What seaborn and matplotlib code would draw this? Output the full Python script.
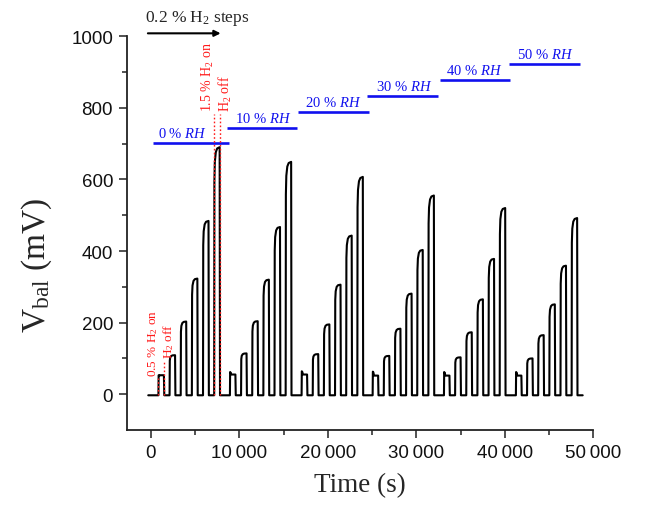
import numpy as np
import pandas as pd
import matplotlib
matplotlib.use("Agg")
import matplotlib.pyplot as plt
from matplotlib.ticker import FixedLocator, FuncFormatter
import seaborn as sns

# ---- measured values -------------------------------------------------------
# start of each humidity cycle (s) and H2 step onsets within a cycle (s)
cycle_start = [850, 8930, 17030, 25060, 33120, 41250]
step_offset = [0, 1260, 2520, 3780, 5040, 6300]
h2_on_time = 620          # length of one H2 exposure (s)
baseline = -3             # balance voltage with H2 off (mV)

# final response (mV) to 0.5, 0.7, 0.9, 1.1, 1.3, 1.5 % H2 for each RH level
peak_0rh = [53, 109, 203, 323, 484, 690]
peak_10rh = [55, 114, 204, 320, 467, 649]
peak_20rh = [55, 112, 195, 306, 443, 607]
peak_30rh = [52, 107, 183, 281, 403, 555]
peak_40rh = [52, 103, 173, 265, 378, 520]
peak_50rh = [52, 100, 165, 251, 359, 492]
peaks = [peak_0rh, peak_10rh, peak_20rh, peak_30rh, peak_40rh, peak_50rh]

# initial overshoot of the 0.5 % H2 step (mV)
first_spike = [53, 62, 64, 63, 62, 62]

# response profile during one exposure: time fraction -> fraction of final value
profile_t = [0.04, 0.12, 0.30, 0.55, 1.0]
profile_v = [0.86, 0.94, 0.98, 0.995, 1.0]

trace_start, trace_end = -300, 48800

# humidity annotation bars
rh_levels = [0, 10, 20, 30, 40, 50]
rh_bar_start = [260, 8610, 16570, 24450, 32680, 40520]
rh_bar_end = [8860, 16530, 24600, 32480, 40600, 48500]
rh_bar_y = [703, 744, 788, 833, 879, 922]
rh_label_x = [3600, 12660, 20630, 28600, 36510, 44600]

x_ticks = [0, 10000, 20000, 30000, 40000, 50000]
y_ticks = [0, 200, 400, 600, 800, 1000]

# ---- build the time trace ----------------------------------------------------
times, volts = [trace_start], [baseline]
for c, c0 in enumerate(cycle_start):
    for j, off in enumerate(step_offset):
        t0 = c0 + off
        p = peaks[c][j]
        times.append(t0)
        volts.append(baseline)
        if j == 0:
            times += [t0 + 25, t0 + 80, t0 + 160, t0 + h2_on_time]
            volts += [first_spike[c], first_spike[c] - 2, p, p]
        else:
            for ft, fv in zip(profile_t, profile_v):
                times.append(t0 + ft * h2_on_time)
                volts.append(fv * p)
        times.append(t0 + h2_on_time + 40)
        volts.append(baseline)
times.append(trace_end)
volts.append(baseline)
df = pd.DataFrame({"Time (s)": times, "V (mV)": volts})

# ---- styling -----------------------------------------------------------------
sns.set_theme(style="ticks")
plt.rcParams["font.family"] = ["Liberation Sans", "DejaVu Sans"]
plt.rcParams["mathtext.fontset"] = "custom"
plt.rcParams["mathtext.rm"] = "Liberation Serif"
plt.rcParams["mathtext.it"] = "Liberation Serif:italic"
plt.rcParams["mathtext.bf"] = "Liberation Serif:bold"

serif = ["Liberation Serif", "DejaVu Serif"]
axis_color = "#222222"

fig = plt.figure(figsize=(6.53, 5.06), dpi=100)
ax = fig.add_axes([0.1945, 0.1482, 0.7141, 0.7783])

sns.lineplot(data=df, x="Time (s)", y="V (mV)", ax=ax, color="black",
             linewidth=1.5, estimator=None, sort=False)

ax.set_xlim(-2700, 50000)
ax.set_ylim(-100, 1000)

ax.xaxis.set_major_locator(FixedLocator(x_ticks))
ax.xaxis.set_minor_locator(FixedLocator([5000, 15000, 25000, 35000, 45000]))
ax.yaxis.set_major_locator(FixedLocator(y_ticks))
ax.yaxis.set_minor_locator(FixedLocator([100, 300, 500, 700, 900]))


def thousands(v, _pos):
    v = int(round(v))
    if abs(v) >= 10000:
        return f"{v // 1000}\u2009{v % 1000:03d}"
    return f"{v}"


ax.xaxis.set_major_formatter(FuncFormatter(thousands))
ax.yaxis.set_major_formatter(FuncFormatter(lambda v, p: f"{int(v)}"))

for side in ("top", "right"):
    ax.spines[side].set_visible(False)
for side in ("left", "bottom"):
    ax.spines[side].set_color(axis_color)
    ax.spines[side].set_linewidth(1.3)

ax.tick_params(which="major", direction="out", length=6, width=1.1,
               color=axis_color, labelsize=13.5, labelcolor="#111111", pad=4)
ax.tick_params(which="minor", direction="out", length=3.5, width=1.1,
               color=axis_color)

ax.set_xlabel("Time (s)", fontsize=19.5, family=serif, labelpad=8)
ax.set_ylabel(r"V$_{\mathrm{bal}}$ (mV)", fontsize=24, family=serif)
ax.yaxis.set_label_coords(-0.157, 0.42)

# ---- humidity bars ----------------------------------------------------------
blue = "#1010ee"
for lvl, xs, xe, y, lx in zip(rh_levels, rh_bar_start, rh_bar_end, rh_bar_y, rh_label_x):
    ax.plot([xs, xe], [y, y], color=blue, linewidth=1.9, solid_capstyle="butt")
    ax.text(lx, y + 16, f"{lvl} % $\\mathit{{RH}}$", color=blue, fontsize=10.5,
            family=serif, ha="center", va="baseline")

# ---- H2 step markers -------------------------------------------------------
red = "#ff1a1a"
t_on1 = cycle_start[0]
t_off1 = cycle_start[0] + h2_on_time
t_on6 = cycle_start[0] + step_offset[-1]
t_off6 = t_on6 + h2_on_time
dot = dict(color=red, linewidth=1.0, linestyle=(0, (1.2, 1.6)))
ax.plot([t_on1, t_on1], [baseline, 44], **dot)
ax.plot([t_off1, t_off1], [baseline, 94], **dot)
ax.plot([t_on6, t_on6], [baseline, 783], **dot)
ax.plot([t_off6, t_off6], [baseline, 783], **dot)

ax.text(200, 52, "0.5 % H$_2$ on", color=red, fontsize=9.5, family=serif,
        rotation=90, ha="center", va="bottom")
ax.text(2050, 100, "H$_2$ off", color=red, fontsize=9.5, family=serif,
        rotation=90, ha="center", va="bottom")
ax.text(6500, 791, "1.5 % H$_2$ on", color=red, fontsize=10, family=serif,
        rotation=90, ha="center", va="bottom")
ax.text(8400, 791, "H$_2$ off", color=red, fontsize=10, family=serif,
        rotation=90, ha="center", va="bottom")

# ---- step arrow ------------------------------------------------------------
ax.annotate("", xy=(7880, 1008), xytext=(-340, 1008),
            arrowprops=dict(arrowstyle="-|>", color="black", linewidth=1.5,
                            mutation_scale=9, shrinkA=0, shrinkB=0),
            annotation_clip=False)
ax.text(-680, 1043, "0.2 % H$_2$ steps", fontsize=12.5, family=serif,
        ha="left", va="baseline", clip_on=False)

fig.savefig("out.png", dpi=100)
